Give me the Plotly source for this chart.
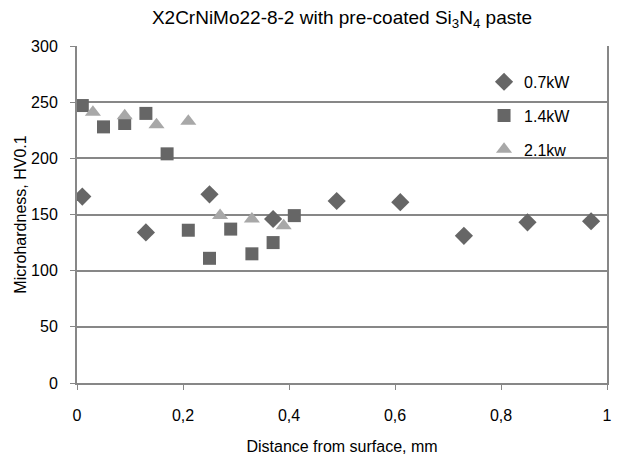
import plotly.graph_objects as go

# --- data ---
x_07 = [0.01, 0.13, 0.25, 0.37, 0.49, 0.61, 0.73, 0.85, 0.97]
y_07 = [166, 134, 168, 146, 162, 161, 131, 143, 144]

x_14 = [0.01, 0.05, 0.09, 0.13, 0.17, 0.21, 0.25, 0.29, 0.33, 0.37, 0.41]
y_14 = [247, 228, 231, 240, 204, 136, 111, 137, 115, 125, 149]

x_21 = [0.03, 0.09, 0.15, 0.21, 0.27, 0.33, 0.39]
y_21 = [241, 238, 230, 233, 149, 146, 140]

series_names = ["0.7kW", "1.4kW", "2.1kw"]
x_tickvals = [0, 0.2, 0.4, 0.6, 0.8, 1]
x_ticktext = ["0", "0,2", "0,4", "0,6", "0,8", "1"]
y_tickvals = [0, 50, 100, 150, 200, 250, 300]

FONT = "Liberation Sans, Arial, sans-serif"
GRID = "#878787"
DARK = "#666666"
LIGHT = "#a8a8a8"

fig = go.Figure()
fig.add_trace(go.Scatter(x=x_07, y=y_07, mode="markers", name=series_names[0],
                         legendgroup="a",
                         marker=dict(symbol="diamond", size=14, color=DARK)))
fig.add_trace(go.Scatter(x=x_14, y=y_14, mode="markers", name=series_names[1],
                         legendgroup="b",
                         marker=dict(symbol="square", size=13, color=DARK)))
fig.add_trace(go.Scatter(x=x_21, y=y_21, mode="markers", name=series_names[2],
                         legendgroup="c",
                         marker=dict(symbol="triangle-up", size=14, color=LIGHT)))

fig.update_layout(
    width=621, height=461,
    margin=dict(l=77, r=14, t=46, b=78, autoexpand=False),
    paper_bgcolor="white", plot_bgcolor="white",
    font=dict(family=FONT, size=16, color="#000000"),
    title=dict(text="X2CrNiMo22-8-2 with pre-coated Si<sub>3</sub>N<sub>4</sub> paste",
               x=0.5, xref="paper", xanchor="center",
               y=0.962, yref="container", yanchor="middle",
               font=dict(size=19, family=FONT)),
    showlegend=True,
    legend=dict(x=0.768, y=0.944, xanchor="left", yanchor="top",
                bgcolor="rgba(0,0,0,0)", borderwidth=0,
                tracegroupgap=10, itemwidth=30,
                font=dict(size=16, family=FONT)),
    xaxis=dict(range=[0, 1], tickvals=x_tickvals, ticktext=x_ticktext,
               showgrid=False, zeroline=False, automargin=False,
               showline=True, linecolor=GRID, linewidth=2,
               ticks="outside", ticklen=5, tickwidth=1, tickcolor=GRID,
               tickfont=dict(size=16), ticklabelstandoff=12,
               title=dict(text="Distance from surface, mm", font=dict(size=16), standoff=18)),
    yaxis=dict(range=[0, 300], tickvals=y_tickvals,
               showgrid=True, gridcolor=GRID, gridwidth=2,
               zeroline=False, automargin=False,
               showline=True, linecolor=GRID, linewidth=2, mirror=True,
               ticks="outside", ticklen=5, tickwidth=1, tickcolor=GRID,
               tickfont=dict(size=16), ticklabelstandoff=9,
               title=dict(text="Microhardness, HV0.1", font=dict(size=16), standoff=0)),
)

fig.write_html("out.html",
               config={"displayModeBar": False},
               post_script="document.body.style.margin='0';document.body.style.overflow='hidden';")
